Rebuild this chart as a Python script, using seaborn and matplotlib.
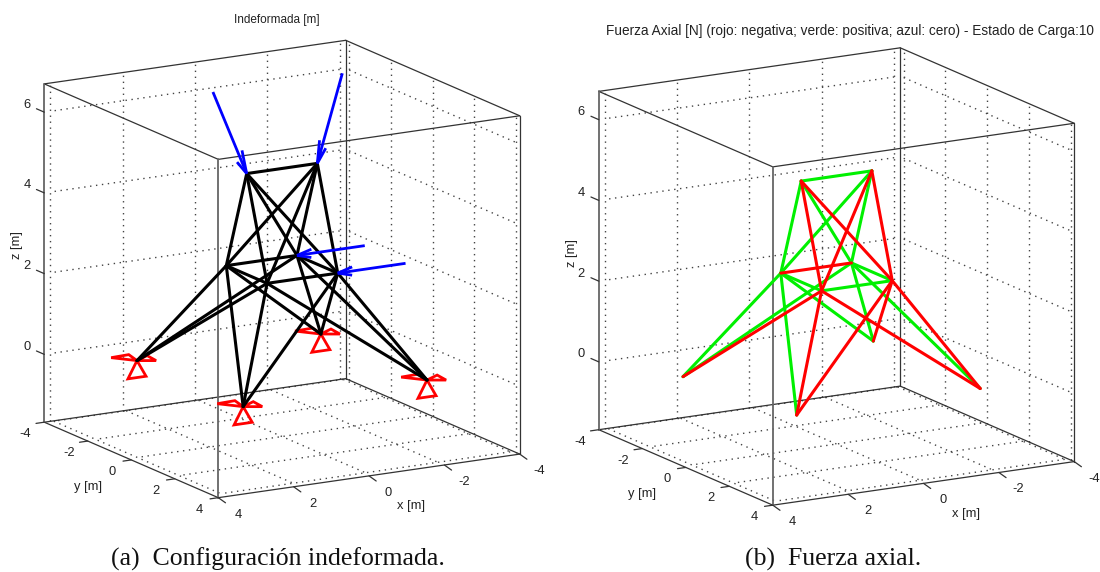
import matplotlib
matplotlib.use('Agg')
import matplotlib.pyplot as plt
import seaborn as sns
from mpl_toolkits.mplot3d import proj3d

# truss nodes [m], as drawn in the left panel
node_x = [-0.9375, 0.9375, -0.9375, 0.9375, 0.9375, -0.9375, -2.44, 2.44, 2.44, -2.44]
node_y = [0, 0, 0.9375, 0.9375, -0.9375, -0.9375, 2.44, 2.44, -2.44, -2.44]
node_z = [5, 5, 2.5, 2.5, 2.5, 2.5, 0, 0, 0, 0]

# the right panel reads slightly differently at the base
node_x_b = [-0.9375, 0.9375, -0.9375, 0.9375, 0.9375, -0.9375, -2.37, 2.5, 2.63, -2.42]
node_y_b = [0, 0, 0.9375, 0.9375, -0.9375, -0.9375, 2.5, 2.5, -2.5, -2.5]
node_z_b = [5, 5, 2.5, 2.5, 2.5, 2.5, 0, 0, -0.2, 0]

# bars (node indices) and sign of the axial force
bar_i = [0, 0, 1, 0, 1, 1, 1, 0, 0, 2, 3, 2, 4, 2, 5, 3, 4, 2, 3, 5, 4, 2, 3, 4, 5]
bar_j = [1, 3, 2, 4, 5, 4, 3, 2, 5, 5, 4, 3, 5, 9, 6, 8, 7, 7, 6, 8, 9, 6, 7, 8, 9]
axial_sign = [1, -1, -1, 1, 1, 1, -1, -1, 1, 1, 1, 1, -1, -1, 1, -1, 1, -1, -1, 1, 1, -1, -1, 1, 1]

# applied loads
load_node = [0, 1, 2, 5]
load_u = [0, -1.56, 1.8, 1.8]
load_v = [-1.15, -1.15, 0, 0]
load_w = [-2.5, -2.5, 0, 0]

support_nodes = [6, 7, 8, 9]

x_ticks = [-4, -2, 0, 2, 4]
y_ticks = [-4, -2, 0, 2, 4]
z_ticks = [0, 2, 4, 6]
x_lim = (-4, 4)
y_lim = (-4, 4)
z_lim = (-1.68, 6.7)

sns.set_theme(style='white')
plt.rcParams['font.family'] = ['Liberation Sans', 'DejaVu Sans']

palette = sns.color_palette(['#ff0000', '#00f000', '#0000ff', '#000000'])
RED, GREEN, BLUE, BLACK = palette

FIG_W, FIG_H = 1100, 572
AX_SIZE = 586


def line3d(ax, xs, ys, zs, **kw):
    ax.plot(xs, ys, zs, **kw)


def label3d(ax, x, y, z, s, **kw):
    # 3D point -> 2D data coords so the text stays a plain axes text
    px, py, _ = proj3d.proj_transform(x, y, z, ax.get_proj())
    ax.text2D(px, py, s, transform=ax.transData, **kw)


def draw_frame(ax, zlabel_z):
    x0, x1 = x_lim
    y0, y1 = y_lim
    z0, z1 = z_lim
    grid = dict(color='#444444', lw=1.0, ls=(0, (1, 3.3)), zorder=1)
    # grid is a bit inset from the box in the original
    gs = 0.96
    for t in x_ticks:
        line3d(ax, [t * gs, t * gs], [y0, y0], [z0, z1], **grid)
        line3d(ax, [t * gs, t * gs], [y0 * gs, y1 * gs], [z0 + 0.04, z0 + 0.04], **grid)
    for t in y_ticks:
        line3d(ax, [x0, x0], [t * gs, t * gs], [z0, z1], **grid)
        line3d(ax, [x0 * gs, x1 * gs], [t * gs, t * gs], [z0 + 0.04, z0 + 0.04], **grid)
    for t in z_ticks:
        line3d(ax, [x0 * gs, x1 * gs], [y0, y0], [t, t], **grid)
        line3d(ax, [x0, x0], [y0 * gs, y1 * gs], [t, t], **grid)

    # box edges
    edge = dict(color='#333333', lw=0.9, zorder=2)
    for z in (z0, z1):
        line3d(ax, [x0, x1], [y0, y0], [z, z], **edge)
        line3d(ax, [x0, x1], [y1, y1], [z, z], **edge)
        line3d(ax, [x0, x0], [y0, y1], [z, z], **edge)
        line3d(ax, [x1, x1], [y0, y1], [z, z], **edge)
    line3d(ax, [x0, x0], [y0, y0], [z0, z1], **edge)
    line3d(ax, [x0, x0], [y1, y1], [z0, z1], **edge)
    line3d(ax, [x1, x1], [y0, y0], [z0, z1], color='#666666', lw=1.3, zorder=2)
    line3d(ax, [x1, x1], [y1, y1], [z0, z1], color='#666666', lw=1.3, zorder=2)

    # ticks and labels
    tick = dict(color='#333333', lw=0.9, zorder=2)
    txt = dict(ha='center', va='center', fontsize=9.3, color='#222222')
    for t in x_ticks:
        line3d(ax, [t, t], [y1, y1 + 0.33], [z0, z0 - 0.05], **tick)
        label3d(ax, t, y1 + 0.9, z0 - 0.21, str(t), **txt)
    for t in y_ticks:
        line3d(ax, [x1, x1 + 0.22], [t, t], [z0, z0], **tick)
        label3d(ax, x1 + 0.5, t, z0 - 0.23, str(t), **txt)
    for t in z_ticks:
        line3d(ax, [x1, x1], [y0, y0 - 0.36], [t, t], **tick)
        label3d(ax, x1, y0 - 0.8, t, str(t), **txt)
    label3d(ax, 0.55, 6.9, z0, 'x [m]', **txt)
    label3d(ax, 6.1, 1.63, z0, 'y [m]', **txt)
    label3d(ax, x1, y0 - 1.24, zlabel_z, 'z [m]', rotation=90, **txt)


def make_axes(cx, cy):
    # cx, cy: pixel position of the box centre, y measured from the top
    left = cx - 0.5135 * AX_SIZE
    bottom = (FIG_H - cy) - 0.5135 * AX_SIZE
    ax = fig.add_axes([left / FIG_W, bottom / FIG_H, AX_SIZE / FIG_W, AX_SIZE / FIG_H],
                      projection='3d', proj_type='ortho')
    ax.patch.set_alpha(0)
    ax.computed_zorder = False
    ax.view_init(elev=14.5, azim=60)
    ax.set_box_aspect((1, 1, 1.004))
    ax.set_xlim(*x_lim, view_margin=0)
    ax.set_ylim(*y_lim, view_margin=0)
    ax.set_zlim(*z_lim, view_margin=0)
    ax.set_axis_off()
    return ax


fig = plt.figure(figsize=(FIG_W / 100, FIG_H / 100), dpi=100)

# (a) undeformed
ax_a = make_axes(282, 269)
draw_frame(ax_a, 2.41)
for i, j in zip(bar_i, bar_j):
    line3d(ax_a, [node_x[i], node_x[j]], [node_y[i], node_y[j]], [node_z[i], node_z[j]],
           color=BLACK, lw=2.2, zorder=5, solid_capstyle='round')
for n in support_nodes:
    x, y, z = node_x[n], node_y[n], node_z[n]
    red = dict(color=RED, lw=2.0, zorder=4, solid_joinstyle='miter')
    line3d(ax_a, [x, x + 0.24, x - 0.24, x], [y, y, y, y], [z, z - 0.42, z - 0.42, z], **red)
    line3d(ax_a, [x, x + 0.38, x - 0.11, x], [y, y - 0.53, y - 0.57, y], [z, z, z, z], **red)
    line3d(ax_a, [x, x - 0.43, x - 0.38, x], [y, y - 0.28, y + 0.22, y], [z, z, z, z], **red)
for n, u, v, w in zip(load_node, load_u, load_v, load_w):
    ax_a.quiver(node_x[n] - u, node_y[n] - v, node_z[n] - w, u, v, w, color=BLUE, lw=2.0,
                arrow_length_ratio=0.22, zorder=6)

# (b) axial force
ax_b = make_axes(836.5, 276.5)
draw_frame(ax_b, 2.41)
for i, j, s in zip(bar_i, bar_j, axial_sign):
    line3d(ax_b, [node_x_b[i], node_x_b[j]], [node_y_b[i], node_y_b[j]], [node_z_b[i], node_z_b[j]],
           color=GREEN if s > 0 else RED, lw=2.2, zorder=5 if s > 0 else 6)

fig.text(277 / FIG_W, 1 - 20 / FIG_H, 'Indeformada [m]', ha='center', va='center', fontsize=8.5, color='#222222')
fig.text(850 / FIG_W, 1 - 31 / FIG_H, 'Fuerza Axial [N] (rojo: negativa; verde: positiva; azul: cero) - Estado de Carga:10',
         ha='center', va='center', fontsize=9.8, color='#222222')
fig.text(278 / FIG_W, 1 - 559 / FIG_H, '(a)  Configuración indeformada.', ha='center', va='center',
         fontsize=18.5, family='Liberation Serif', color='#111111')
fig.text(833.5 / FIG_W, 1 - 559 / FIG_H, '(b)  Fuerza axial.', ha='center', va='center',
         fontsize=18.5, family='Liberation Serif', color='#111111')

fig.savefig('out.png', dpi=100)
